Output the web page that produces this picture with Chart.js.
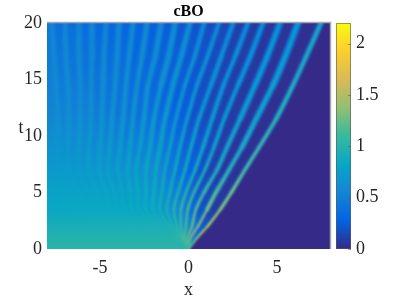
<!DOCTYPE html>
<html>
<head>
<meta charset="utf-8">
<style>
  html, body { margin: 0; padding: 0; background: #fff; }
  #wrap { position: relative; width: 399px; height: 299px; overflow: hidden; }
  canvas { position: absolute; top: 0; }
</style>
<script src="https://cdn.jsdelivr.net/npm/chart.js@4/dist/chart.umd.min.js"></script>
</head>
<body>
<div id="wrap">
  <canvas id="plot" width="399" height="299" style="left:0"></canvas>
  <canvas id="bar" width="69" height="299" style="left:330px"></canvas>
</div>
<script>
// ticks
const xTicks = [-5, 0, 5];
const tTicks = [0, 5, 10, 15, 20];
const colorTicks = [0, 0.5, 1, 1.5, 2];

// crest positions x, one row per t level, crests listed from the front going left
const tLevels = [0, 1, 2, 3.5, 5, 7, 9, 11.5, 14.5, 17, 20];
const crestsT0 = [0.04, 0.02, 0, -0.02, -0.04, -0.06, -0.08, -0.1, -0.12, -0.14, -0.16, -0.18, -0.2, -0.22, -0.24, -0.26, -0.28, -0.3, -0.32];
const crestsT1 = [0.5, 0.14, -0.03, -0.2, -0.31, -0.42, -0.54, -0.65, -0.76, -0.88, -0.99, -1.1, -1.22, -1.33, -1.44, -1.55, -1.67, -1.78, -1.89];
const crestsT2 = [1.08, 0.54, 0.2, -0.14, -0.42, -0.65, -0.88, -1.1, -1.33, -1.55, -1.78, -2.01, -2.23, -2.46, -2.68, -2.91, -3.14, -3.36, -3.59];
const crestsT35 = [1.8, 1.05, 0.42, -0.03, -0.42, -0.82, -1.22, -1.61, -2.01, -2.4, -2.8, -3.19, -3.59, -3.99, -4.38, -4.78, -5.17, -5.57, -5.96];
const crestsT5 = [2.42, 1.55, 0.88, 0.31, -0.14, -0.59, -1.05, -1.5, -1.95, -2.4, -2.85, -3.31, -3.76, -4.21, -4.66, -5.17, -5.68, -6.19, -6.7];
const crestsT7 = [3.19, 2.29, 1.61, 0.93, 0.37, -0.2, -0.76, -1.33, -1.84, -2.4, -2.97, -3.42, -3.99, -4.55, -5.06, -5.62, -6.19, -6.76, -7.26];
const crestsT9 = [3.99, 3.02, 2.18, 1.44, 0.82, 0.14, -0.48, -1.05, -1.61, -2.18, -2.74, -3.31, -3.87, -4.44, -5, -5.62, -6.19, -6.81, -7.38];
const crestsT115 = [4.95, 3.82, 2.91, 2.01, 1.33, 0.59, -0.08, -0.71, -1.33, -1.95, -2.52, -3.14, -3.7, -4.32, -4.89, -5.51, -6.13, -6.76, -7.38];
const crestsT145 = [5.91, 4.78, 3.76, 2.8, 1.98, 1.27, 0.48, -0.2, -0.88, -1.55, -2.29, -2.91, -3.53, -4.15, -4.83, -5.51, -6.13, -6.81, -7.49];
const crestsT17 = [6.64, 5.46, 4.44, 3.48, 2.63, 1.84, 1.07, 0.34, -0.42, -1.13, -1.89, -2.63, -3.36, -4.04, -4.78, -5.46, -6.19, -6.93, -7.6];
const crestsT20 = [7.49, 6.19, 5.17, 4.21, 3.36, 2.52, 1.72, 0.88, 0.08, -0.76, -1.55, -2.35, -3.14, -3.93, -4.66, -5.46, -6.19, -6.98, -7.72];
const crestRows = [crestsT0, crestsT1, crestsT2, crestsT35, crestsT5, crestsT7, crestsT9, crestsT115, crestsT145, crestsT17, crestsT20];

// u along each crest and in the trough left of it, at these t
const ampT = [0, 1.5, 3.5, 7, 12, 20];
const crestValues = [
  [1.1, 2, 1.8, 1.3, 1.1, 0.95],
  [1.05, 1.65, 1.6, 1.1, 0.9, 0.78],
  [1.05, 1.45, 1.45, 1, 0.85, 0.72],
  [1.03, 1.3, 1.3, 0.98, 0.8, 0.68],
  [1.03, 1.2, 1.2, 0.95, 0.78, 0.66],
  [1.03, 1.12, 1.12, 0.93, 0.76, 0.65],
  [1.03, 1.05, 1.03, 0.9, 0.75, 0.64],
  [1.03, 1.01, 0.96, 0.88, 0.73, 0.62],
  [1.03, 0.98, 0.92, 0.86, 0.72, 0.6],
  [1.03, 0.97, 0.89, 0.84, 0.7, 0.6],
  [1.03, 0.97, 0.88, 0.82, 0.68, 0.59],
  [1.03, 0.97, 0.87, 0.8, 0.67, 0.58],
  [1.03, 0.97, 0.86, 0.78, 0.66, 0.58],
  [1.03, 0.97, 0.85, 0.77, 0.65, 0.57],
  [1.03, 0.97, 0.85, 0.76, 0.65, 0.56],
  [1.03, 0.97, 0.85, 0.75, 0.64, 0.56],
  [1.03, 0.97, 0.85, 0.74, 0.63, 0.55],
  [1.03, 0.97, 0.85, 0.73, 0.63, 0.55],
  [1.03, 0.97, 0.85, 0.72, 0.62, 0.54]
];
const troughValues = [
  [0.9, 0.3, 0.08, 0.04, 0.03, 0.03],
  [1, 0.55, 0.2, 0.06, 0.05, 0.05],
  [1, 0.7, 0.35, 0.12, 0.08, 0.06],
  [1, 0.8, 0.5, 0.2, 0.12, 0.08],
  [1, 0.85, 0.6, 0.3, 0.15, 0.1],
  [1, 0.88, 0.65, 0.38, 0.2, 0.14],
  [1.02, 0.9, 0.72, 0.46, 0.26, 0.17],
  [1.02, 0.92, 0.75, 0.54, 0.3, 0.2],
  [1.03, 0.94, 0.78, 0.58, 0.34, 0.22],
  [1.03, 0.95, 0.8, 0.62, 0.37, 0.24],
  [1.03, 0.96, 0.81, 0.64, 0.39, 0.26],
  [1.03, 0.97, 0.82, 0.65, 0.41, 0.28],
  [1.03, 0.97, 0.83, 0.66, 0.44, 0.3],
  [1.03, 0.97, 0.83, 0.67, 0.46, 0.31],
  [1.03, 0.97, 0.84, 0.68, 0.48, 0.32],
  [1.03, 0.97, 0.84, 0.69, 0.5, 0.34],
  [1.03, 0.97, 0.84, 0.7, 0.51, 0.36],
  [1.03, 0.97, 0.84, 0.71, 0.52, 0.38],
  [1.03, 0.97, 0.84, 0.72, 0.54, 0.42]
];

// colormap
const colorVals = [0, 0.275, 0.55, 0.825, 1.1, 1.375, 1.65, 1.925, 2.2];
const colorHex = ['#352a87', '#0363e1', '#1485d4', '#06a7c6', '#38b99e', '#92bf73', '#d9ba56', '#fcce2e', '#f9fb0e'];

const SERIF = '"Liberation Serif", "Times New Roman", serif';
const TEXT = '#262626';

function rgb(hex) {
  return [1, 3, 5].map(i => parseInt(hex.substr(i, 2), 16));
}

function colorFor(v) {
  let i = 0;
  while (i < colorVals.length - 2 && v > colorVals[i + 1]) i++;
  const f = (v - colorVals[i]) / (colorVals[i + 1] - colorVals[i]);
  const a = rgb(colorHex[i]), b = rgb(colorHex[i + 1]);
  const c = a.map((n, j) => Math.round(n + (b[j] - n) * f));
  return 'rgb(' + c.join(',') + ')';
}

// vertical gradient in t, built on the chart's own y scale
function tGradient(ctx, values) {
  const chart = ctx.chart;
  if (!chart.chartArea) return colorFor(values[0]);
  const y = chart.scales.y;
  const g = chart.ctx.createLinearGradient(0, y.getPixelForValue(0), 0, y.getPixelForValue(20));
  ampT.forEach((t, i) => g.addColorStop(t / 20, colorFor(values[i])));
  return g;
}

function crestPoints(k) {
  return tLevels.map((t, i) => ({ x: crestRows[i][k], y: t }));
}

// crest gets narrower where the neighbours crowd in
function crestWidth(ctx, k, share) {
  const x = ctx.chart.scales.x;
  const i = ctx.p0DataIndex;
  const here = x.getPixelForValue(crestRows[i][k]);
  const next = k + 1 < crestValues.length ? crestRows[i][k + 1] : crestRows[i][k - 1];
  const gap = Math.abs(here - x.getPixelForValue(next));
  return Math.max(1.4, Math.min(10, gap * share));
}

const datasets = [];
const lineBase = { pointRadius: 0, tension: 0.3 };
// chart.js paints the last dataset first, so cores go in before their halos
crestValues.forEach((vals, k) => {
  const coreShare = k === 0 ? 0.11 : k < 8 ? 0.16 : 0.28;
  datasets.push({
    ...lineBase,
    data: crestPoints(k),
    fill: false,
    borderColor: ctx => tGradient(ctx, vals),
    borderCapStyle: 'round',
    segment: { borderWidth: ctx => crestWidth(ctx, k, coreShare) }
  });
});
crestValues.forEach((vals, k) => {
  const halo = vals.map((v, i) => (v + troughValues[k][i]) / 2);
  const haloShare = k === 0 ? 0.28 : k < 8 ? 0.42 : 0.55;
  datasets.push({
    ...lineBase,
    data: crestPoints(k),
    fill: false,
    borderColor: ctx => tGradient(ctx, halo),
    borderCapStyle: 'round',
    segment: { borderWidth: ctx => crestWidth(ctx, k, haloShare) }
  });
});
// right of the front nothing happens, u is about 0
datasets.push({
  ...lineBase,
  data: crestPoints(0),
  borderWidth: 0,
  fill: { value: 8 },
  backgroundColor: colorHex[0]
});
// troughs without segment styles so the fill stays one piece
crestValues.forEach((vals, k) => {
  const last = k === crestValues.length - 1;
  datasets.push({
    ...lineBase,
    data: crestPoints(k),
    borderWidth: 0,
    fill: last ? { value: -8 } : '+1',
    backgroundColor: ctx => tGradient(ctx, troughValues[k])
  });
});

// the field is smooth in the original, soften band edges
const softenPlot = {
  id: 'softenPlot',
  afterDatasetsDraw(chart) {
    const { ctx, chartArea: a, canvas } = chart;
    ctx.save();
    ctx.beginPath();
    ctx.rect(a.left, a.top, a.right - a.left, a.bottom - a.top);
    ctx.clip();
    ctx.filter = 'blur(0.9px)';
    ctx.setTransform(1, 0, 0, 1, 0, 0);
    ctx.drawImage(canvas, 0, 0);
    ctx.restore();
  }
};

const plotFrame = {
  id: 'plotFrame',
  afterDraw(chart) {
    const { ctx, chartArea: a, scales } = chart;
    ctx.save();
    ctx.strokeStyle = '#a6a6a6';
    ctx.lineWidth = 1.5;
    ctx.beginPath();
    ctx.moveTo(a.left, a.top - 0.5);
    ctx.lineTo(a.right + 0.5, a.top - 0.5);
    ctx.lineTo(a.right + 0.5, a.bottom);
    ctx.stroke();
    // horizontal ylabel, matlab style
    ctx.fillStyle = TEXT;
    ctx.font = '18px ' + SERIF;
    ctx.textAlign = 'center';
    ctx.textBaseline = 'middle';
    ctx.fillText('t', 21, scales.y.getPixelForValue(10.7));
    ctx.restore();
  }
};

new Chart(document.getElementById('plot'), {
  type: 'line',
  data: { datasets: datasets },
  options: {
    responsive: false,
    animation: false,
    indexAxis: 'y',
    layout: { padding: { right: 69 } },
    plugins: {
      legend: { display: false },
      tooltip: { enabled: false },
      filler: { drawTime: 'beforeDatasetsDraw', propagate: false },
      title: {
        display: true,
        text: 'cBO',
        fullSize: false,
        color: '#000',
        font: { family: SERIF, size: 16, weight: 'bold' },
        padding: { top: 2.5, bottom: 1.3 }
      }
    },
    scales: {
      x: {
        type: 'linear',
        min: -8,
        max: 8,
        grid: { display: false, drawTicks: false },
        border: { display: false },
        afterBuildTicks: axis => { axis.ticks = xTicks.map(v => ({ value: v })); },
        afterFit: axis => { axis.height = 50; },
        ticks: { color: TEXT, font: { family: SERIF, size: 18 }, padding: 8, maxRotation: 0 },
        title: { display: true, text: 'x', color: TEXT, font: { family: SERIF, size: 18 }, padding: { top: 0, bottom: -2 } }
      },
      y: {
        type: 'linear',
        min: 0,
        max: 20,
        grid: { display: false, drawTicks: false },
        border: { display: false },
        afterBuildTicks: axis => { axis.ticks = tTicks.map(v => ({ value: v })); },
        afterFit: axis => { axis.width = 47; },
        ticks: { color: TEXT, font: { family: SERIF, size: 18 }, padding: 5 }
      }
    }
  },
  plugins: [softenPlot, plotFrame]
});

// colorbar, its own small chart
const barFrame = {
  id: 'barFrame',
  afterDraw(chart) {
    const { ctx, chartArea: a, scales } = chart;
    ctx.save();
    ctx.strokeStyle = 'rgba(90,90,90,0.6)';
    ctx.lineWidth = 1;
    ctx.strokeRect(a.left + 0.5, a.top + 0.5, a.right - a.left - 1, a.bottom - a.top - 1);
    colorTicks.forEach(v => {
      const py = Math.round(scales.y.getPixelForValue(v)) + 0.5;
      ctx.beginPath();
      ctx.moveTo(a.right - 3, py);
      ctx.lineTo(a.right, py);
      ctx.stroke();
    });
    ctx.restore();
  }
};

new Chart(document.getElementById('bar'), {
  type: 'bar',
  data: {
    labels: ['u'],
    datasets: [{
      data: [[0, 2.2]],
      barPercentage: 1,
      categoryPercentage: 1,
      backgroundColor: ctx => {
        const chart = ctx.chart;
        if (!chart.chartArea) return colorHex[0];
        const y = chart.scales.y;
        const g = chart.ctx.createLinearGradient(0, y.getPixelForValue(0), 0, y.getPixelForValue(2.2));
        colorVals.forEach((v, i) => g.addColorStop(v / 2.2, colorHex[i]));
        return g;
      }
    }]
  },
  options: {
    responsive: false,
    animation: false,
    layout: { padding: { left: 6, top: 23, bottom: 50 } },
    plugins: { legend: { display: false }, tooltip: { enabled: false } },
    scales: {
      x: { display: false },
      y: {
        position: 'right',
        min: 0,
        max: 2.2,
        grid: { display: false, drawTicks: false },
        border: { display: false },
        afterBuildTicks: axis => { axis.ticks = colorTicks.map(v => ({ value: v })); },
        afterFit: axis => { axis.width = 48; },
        ticks: { color: TEXT, font: { family: SERIF, size: 18 }, padding: 5, callback: v => String(v) }
      }
    }
  },
  plugins: [barFrame]
});
</script>
</body>
</html>
